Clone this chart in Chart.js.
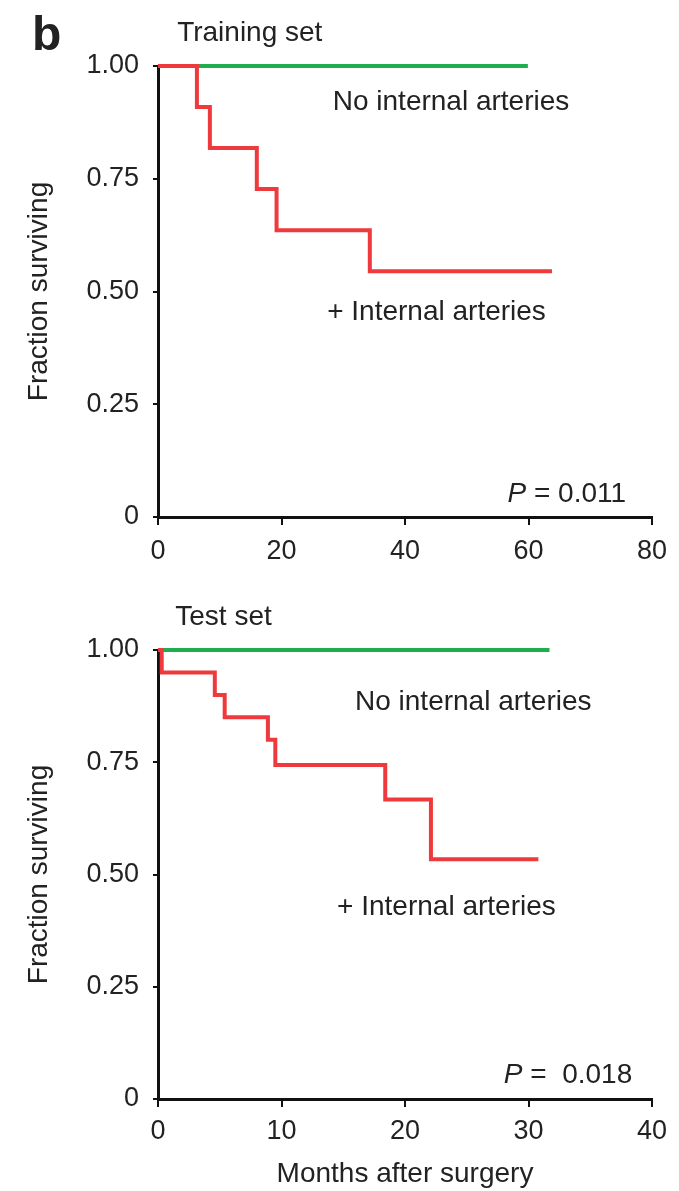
<!doctype html>
<html lang="en">
  <head>
    <script src="https://cdn.jsdelivr.net/npm/chart.js"></script>
    <meta charset="UTF-8" />
    <title>Survival by internal arteries</title>
    <style>
      body {
        margin: 0;
        background: #fff;
        width: 679px;
        height: 1191px;
        position: relative;
        overflow: hidden;
      }
      .panel {
        position: absolute;
        left: 0;
      }
    </style>
  </head>
  <body>
    <div class="panel" style="top: 0"><canvas id="trainChart" width="679" height="590"></canvas></div>
    <div class="panel" style="top: 590px"><canvas id="testChart" width="679" height="601"></canvas></div>

    <script>
      // Training set (months, fraction surviving)
      const trainArtMonths = [0, 6.3, 8.4, 16.0, 19.2, 34.3, 63.8];
      const trainArtSurv = [1, 0.909, 0.818, 0.727, 0.636, 0.545, 0.545];
      const trainNoArtMonths = [0, 59.9];
      const trainNoArtSurv = [1, 1];

      // Test set
      const testArtMonths = [0, 0.3, 4.6, 5.4, 8.9, 9.5, 18.4, 22.1, 30.8];
      const testArtSurv = [1, 0.95, 0.9, 0.85, 0.8, 0.744, 0.667, 0.534, 0.534];
      const testNoArtMonths = [0, 31.7];
      const testNoArtSurv = [1, 1];

      const yTicks = [0, 0.25, 0.5, 0.75, 1];
      const yTickLabels = ["0", "0.25", "0.50", "0.75", "1.00"];

      const RED = "#ee3a3c";
      const GREEN = "#1fae4e";
      const INK = "#222";
      const FONT = "'Liberation Sans', Arial, sans-serif";

      function pts(xs, ys) {
        return xs.map((x, i) => ({ x: x, y: ys[i] }));
      }

      // draws free text labels placed in data coordinates
      const notesPlugin = {
        id: "notes",
        afterDatasetsDraw(chart, args, opts) {
          const ctx = chart.ctx;
          const xs = chart.scales.x;
          const ys = chart.scales.y;
          ctx.save();
          ctx.fillStyle = INK;
          ctx.textBaseline = "alphabetic";
          (opts.items || []).forEach((it) => {
            const parts = it.parts || [{ text: it.text }];
            const size = it.size || 28;
            let w = 0;
            parts.forEach((p) => {
              ctx.font = (p.italic ? "italic " : "") + (it.bold ? "bold " : "") + size + "px " + FONT;
              p.w = ctx.measureText(p.text).width;
              w += p.w;
            });
            let px = xs.getPixelForValue(it.x);
            const py = ys.getPixelForValue(it.y);
            if (it.align === "right") px -= w;
            parts.forEach((p) => {
              ctx.font = (p.italic ? "italic " : "") + (it.bold ? "bold " : "") + size + "px " + FONT;
              ctx.textAlign = "left";
              ctx.fillText(p.text, px, py);
              px += p.w;
            });
          });
          ctx.restore();
        },
      };

      function makeChart(id, cfg) {
        const ctx = document.getElementById(id).getContext("2d");
        return new Chart(ctx, {
          type: "line",
          data: {
            datasets: [
              {
                label: "+ Internal arteries",
                data: pts(cfg.artMonths, cfg.artSurv),
                borderColor: RED,
                borderWidth: 4,
                stepped: "before",
                pointRadius: 0,
                clip: false,
              },
              {
                label: "No internal arteries",
                data: pts(cfg.noArtMonths, cfg.noArtSurv),
                borderColor: GREEN,
                borderWidth: 4,
                stepped: "before",
                pointRadius: 0,
                clip: false,
              },
            ],
          },
          options: {
            responsive: false,
            animation: false,
            layout: { padding: { top: cfg.padTop, right: 27, left: 0, bottom: 0 } },
            plugins: {
              legend: { display: false },
              tooltip: { enabled: false },
              notes: { items: cfg.notes },
            },
            scales: {
              x: {
                type: "linear",
                min: 0,
                max: cfg.xMax,
                afterBuildTicks: (s) => {
                  s.ticks = cfg.xTicks.map((v) => ({ value: v }));
                },
                ticks: {
                  font: { family: FONT, size: 27 },
                  color: INK,
                  padding: cfg.xTickPad,
                  maxRotation: 0,
                },
                grid: {
                  drawOnChartArea: false,
                  drawTicks: true,
                  tickLength: 8,
                  color: "#111",
                  lineWidth: 2,
                },
                border: { color: "#111", width: 3 },
                title: cfg.xTitle
                  ? {
                      display: true,
                      text: cfg.xTitle,
                      font: { family: FONT, size: 28 },
                      color: INK,
                      padding: { top: 0, bottom: 0 },
                    }
                  : { display: false },
                afterFit: (s) => {
                  s.height = cfg.xHeight;
                },
              },
              y: {
                min: 0,
                max: 1,
                afterBuildTicks: (s) => {
                  s.ticks = yTicks.map((v) => ({ value: v }));
                },
                ticks: {
                  font: { family: FONT, size: 27 },
                  color: INK,
                  padding: 14,
                  callback: (v) => yTickLabels[yTicks.indexOf(v)],
                },
                grid: {
                  drawOnChartArea: false,
                  drawTicks: true,
                  tickLength: 5,
                  color: "#111",
                  lineWidth: 2,
                },
                border: { color: "#111", width: 3 },
                title: {
                  display: true,
                  text: "Fraction surviving",
                  font: { family: FONT, size: 28 },
                  color: INK,
                  padding: { top: 22, bottom: 0 },
                },
                afterFit: (s) => {
                  s.width = 158;
                },
              },
            },
          },
          plugins: [notesPlugin],
        });
      }

      makeChart("trainChart", {
        artMonths: trainArtMonths,
        artSurv: trainArtSurv,
        noArtMonths: trainNoArtMonths,
        noArtSurv: trainNoArtSurv,
        xMax: 80,
        xTicks: [0, 20, 40, 60, 80],
        padTop: 66,
        xHeight: 73,
        xTickPad: 10,
        notes: [
          { text: "b", x: -20.4, y: 1.035, size: 48, bold: true },
          { text: "Training set", x: 3.1, y: 1.055 },
          { text: "No internal arteries", x: 28.3, y: 0.902 },
          { text: "+ Internal arteries", x: 27.4, y: 0.437 },
          { parts: [{ text: "P", italic: true }, { text: " = 0.011" }], x: 75.8, y: 0.033, align: "right" },
        ],
      });

      makeChart("testChart", {
        artMonths: testArtMonths,
        artSurv: testArtSurv,
        noArtMonths: testNoArtMonths,
        noArtSurv: testNoArtSurv,
        xMax: 40,
        xTicks: [0, 10, 20, 30, 40],
        padTop: 60,
        xHeight: 92,
        xTickPad: 8,
        xTitle: "Months after surgery",
        notes: [
          { text: "Test set", x: 1.4, y: 1.056 },
          { text: "No internal arteries", x: 15.95, y: 0.866 },
          { text: "+ Internal arteries", x: 14.5, y: 0.41 },
          { parts: [{ text: "P", italic: true }, { text: " =  0.018" }], x: 38.4, y: 0.036, align: "right" },
        ],
      });
    </script>
  </body>
</html>
